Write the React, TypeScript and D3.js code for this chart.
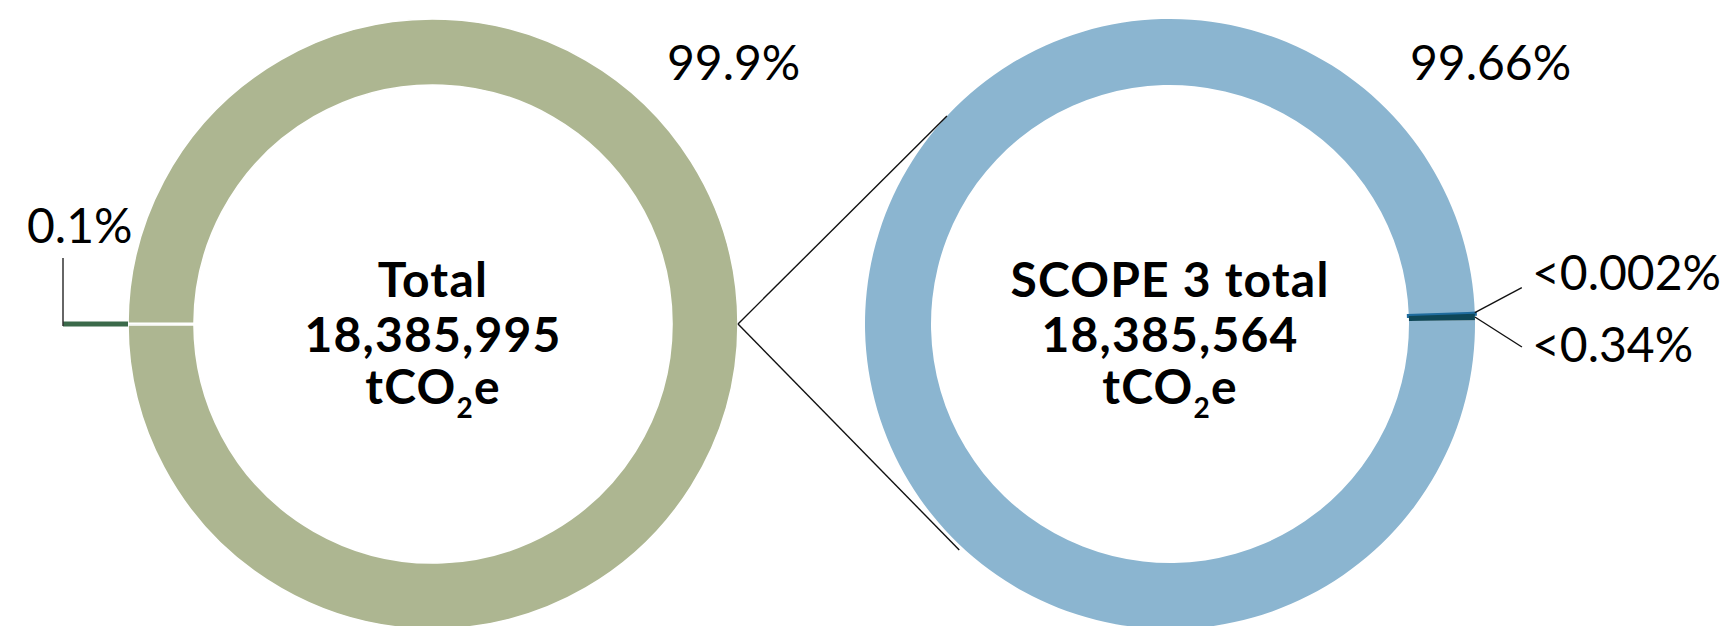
import React from "react";
import * as d3 from "d3";

// ---- data ----
const totalCategories = ["Scope 1 & 2", "Scope 3"];
const totalValues = [0.1, 99.9];
const totalLabels = ["0.1%", "99.9%"];
const totalColors = ["#3b6a4a", "#adb691"];

const scope3Categories = ["Scope 3 other", "Scope 3 minor", "Scope 3 small"];
const scope3Values = [99.66, 0.002, 0.34];
const scope3Labels = ["99.66%", "<0.002%", "<0.34%"];
const scope3Colors = ["#8bb5d0", "#1f6c9e", "#0e4758"];

const totalTitle = ["Total", "18,385,995"];
const scope3Title = ["SCOPE 3 total", "18,385,564"];

const W = 1731;
const H = 626;
const cy = 324;
const R = 305;
const r = 239;
const cxL = 433;
const cxR = 1170;
const deg = Math.PI / 180;

const FONT = "'Lato', 'Noto Sans', sans-serif";

function CenterText({ cx, lines }: { cx: number; lines: string[] }) {
  return (
    <g fontFamily={FONT} fontWeight={700} fontSize={48} letterSpacing={1.2} fill="#000" textAnchor="middle">
      <text x={cx} y={cy - 27}>{lines[0]}</text>
      <text x={cx} y={cy + 28}>{lines[1]}</text>
      <text x={cx} y={cy + 80}>
        tCO<tspan fontSize={28} dy={14}>2</tspan>
        <tspan dy={-14}>e</tspan>
      </text>
    </g>
  );
}

export default function App() {
  const arc = d3.arc<d3.PieArcDatum<number>>().innerRadius(r).outerRadius(R);

  const leftStart = 270 * deg - (totalValues[0] / 100) * Math.PI;
  const pieL = d3.pie<number>().sort(null).value((d) => d)
    .startAngle(leftStart).endAngle(leftStart + 2 * Math.PI)(totalValues);

  const rightStart = 89.3 * deg;
  const pieR = d3.pie<number>().sort(null).value((d) => d)
    .startAngle(rightStart).endAngle(rightStart + 2 * Math.PI)(scope3Values);

  const pt = (cx: number, a: number, rad: number): [number, number] => [
    cx + rad * Math.sin(a),
    cy - rad * Math.cos(a),
  ];

  // connector from left donut's right edge to right donut's outer edge
  const leftEdge = pt(cxL, 90 * deg, R);
  const connTop = pt(cxR, 313 * deg, R);
  const connBot = pt(cxR, 223 * deg, R + 4);

  // small slice leader (left)
  const smallL = pieL[0];
  const smallMid = (smallL.startAngle + smallL.endAngle) / 2;
  const smallOuter = pt(cxL, smallMid, R);
  const leaderX = cxL - R - 65;

  // right small slices
  const minorMid = (pieR[1].startAngle + pieR[1].endAngle) / 2;
  const smallMidR = (pieR[2].startAngle + pieR[2].endAngle) / 2;
  const minorOuter = pt(cxR, minorMid, R);
  const smallOuterR = pt(cxR, smallMidR, R);

  const labelStyle = { fontFamily: FONT, fontWeight: 400, fontSize: 48, fill: "#000" } as const;

  const strokeW = [0, 4, 0];

  return (
    <svg width={W} height={H} style={{ position: "absolute", left: 0, top: 0, background: "#fff" }}>
      {/* left donut */}
      <g>
        {pieL.map((d, i) => (
          <path
            key={totalCategories[i]}
            d={arc(d) || ""}
            transform={`translate(${cxL},${cy})`}
            fill={totalColors[i]}
            stroke="#fff"
            strokeWidth={1.6}
          />
        ))}
      </g>
      {/* right donut */}
      <g>
        {pieR.map((d, i) => (
          <path
            key={scope3Categories[i]}
            d={arc(d) || ""}
            transform={`translate(${cxR},${cy})`}
            fill={scope3Colors[i]}
            stroke={strokeW[i] ? scope3Colors[i] : "none"}
            strokeWidth={strokeW[i]}
          />
        ))}
      </g>

      {/* connectors */}
      <line x1={leftEdge[0]} y1={leftEdge[1]} x2={connTop[0]} y2={connTop[1]} stroke="#111" strokeWidth={1.4} />
      <line x1={leftEdge[0]} y1={leftEdge[1]} x2={connBot[0]} y2={connBot[1]} stroke="#111" strokeWidth={1.4} />

      {/* left small-slice leader */}
      <line x1={smallOuter[0]} y1={smallOuter[1]} x2={leaderX} y2={smallOuter[1]} stroke={totalColors[0]} strokeWidth={5} />
      <line x1={leaderX} y1={smallOuter[1] + 2} x2={leaderX} y2={smallOuter[1] - 66} stroke="#333" strokeWidth={1.5} />
      <text x={leaderX - 36} y={smallOuter[1] - 81} {...labelStyle}>{totalLabels[0]}</text>
      <text x={cxL + 234} y={80} {...labelStyle}>{totalLabels[1]}</text>

      {/* right labels */}
      <line x1={minorOuter[0]} y1={minorOuter[1] - 1} x2={minorOuter[0] + 47} y2={minorOuter[1] - 26} stroke="#111" strokeWidth={1.4} />
      <line x1={smallOuterR[0]} y1={smallOuterR[1]} x2={smallOuterR[0] + 47} y2={smallOuterR[1] + 30} stroke="#111" strokeWidth={1.4} />
      <text x={cxR + 240} y={80} {...labelStyle}>{scope3Labels[0]}</text>
      <text x={cxR + 362} y={290} {...labelStyle}>{scope3Labels[1]}</text>
      <text x={cxR + 362} y={362} {...labelStyle}>{scope3Labels[2]}</text>

      <CenterText cx={cxL} lines={totalTitle} />
      <CenterText cx={cxR} lines={scope3Title} />
    </svg>
  );
}
